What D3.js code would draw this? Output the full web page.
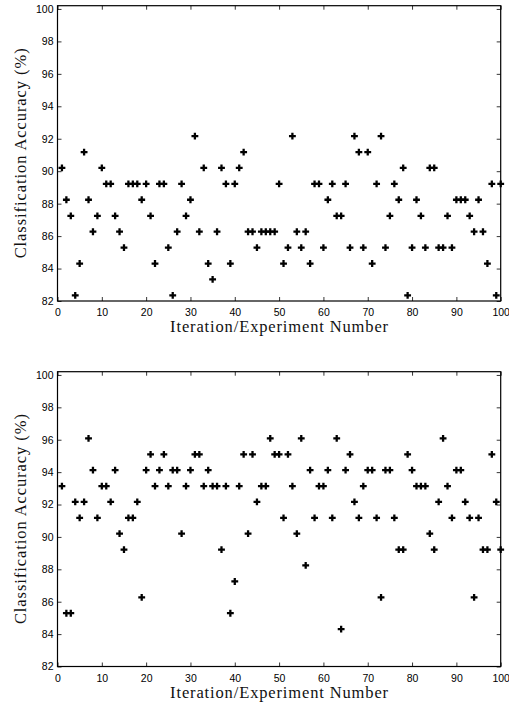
<!DOCTYPE html>
<html>
<head>
<meta charset="utf-8">
<script src="https://cdn.jsdelivr.net/npm/d3@7.9.0/dist/d3.min.js"></script>
<style>
  body { margin: 0; background: #fff; }
  svg { display: block; }
  .tick text { font-family: "Liberation Sans", Arial, sans-serif; font-size: 10.5px; fill: #000; }
  .axis-label { font-family: "Liberation Serif", "Times New Roman", serif; font-size: 16.5px; fill: #111; }
</style>
</head>
<body>
<svg id="chart" width="509" height="707"></svg>
<script>
// iteration / experiment numbers
const iterations = [
  1, 2, 3, 4, 5, 6, 7, 8, 9, 10, 11, 12, 13, 14, 15, 16, 17, 18, 19, 20,
  21, 22, 23, 24, 25, 26, 27, 28, 29, 30, 31, 32, 33, 34, 35, 36, 37, 38, 39, 40,
  41, 42, 43, 44, 45, 46, 47, 48, 49, 50, 51, 52, 53, 54, 55, 56, 57, 58, 59, 60,
  61, 62, 63, 64, 65, 66, 67, 68, 69, 70, 71, 72, 73, 74, 75, 76, 77, 78, 79, 80,
  81, 82, 83, 84, 85, 86, 87, 88, 89, 90, 91, 92, 93, 94, 95, 96, 97, 98, 99, 100
];

// accuracy (%) for the upper panel
const topAccuracy = [
  90.20, 88.24, 87.25, 82.35, 84.31, 91.18, 88.24, 86.27, 87.25, 90.20,
  89.22, 89.22, 87.25, 86.27, 85.29, 89.22, 89.22, 89.22, 88.24, 89.22,
  87.25, 84.31, 89.22, 89.22, 85.29, 82.35, 86.27, 89.22, 87.25, 88.24,
  92.16, 86.27, 90.20, 84.31, 83.33, 86.27, 90.20, 89.22, 84.31, 89.22,
  90.20, 91.18, 86.27, 86.27, 85.29, 86.27, 86.27, 86.27, 86.27, 89.22,
  84.31, 85.29, 92.16, 86.27, 85.29, 86.27, 84.31, 89.22, 89.22, 85.29,
  88.24, 89.22, 87.25, 87.25, 89.22, 85.29, 92.16, 91.18, 85.29, 91.18,
  84.31, 89.22, 92.16, 85.29, 87.25, 89.22, 88.24, 90.20, 82.35, 85.29,
  88.24, 87.25, 85.29, 90.20, 90.20, 85.29, 85.29, 87.25, 85.29, 88.24,
  88.24, 88.24, 87.25, 86.27, 88.24, 86.27, 84.31, 89.22, 82.35, 89.22
];

// accuracy (%) for the lower panel
const bottomAccuracy = [
  93.14, 85.29, 85.29, 92.16, 91.18, 92.16, 96.08, 94.12, 91.18, 93.14,
  93.14, 92.16, 94.12, 90.20, 89.22, 91.18, 91.18, 92.16, 86.27, 94.12,
  95.10, 93.14, 94.12, 95.10, 93.14, 94.12, 94.12, 90.20, 93.14, 94.12,
  95.10, 95.10, 93.14, 94.12, 93.14, 93.14, 89.22, 93.14, 85.29, 87.25,
  93.14, 95.10, 90.20, 95.10, 92.16, 93.14, 93.14, 96.08, 95.10, 95.10,
  91.18, 95.10, 93.14, 90.20, 96.08, 88.24, 94.12, 91.18, 93.14, 93.14,
  94.12, 91.18, 96.08, 84.31, 94.12, 95.10, 92.16, 91.18, 93.14, 94.12,
  94.12, 91.18, 86.27, 94.12, 94.12, 91.18, 89.22, 89.22, 95.10, 94.12,
  93.14, 93.14, 93.14, 90.20, 89.22, 92.16, 96.08, 93.14, 91.18, 94.12,
  94.12, 92.16, 91.18, 86.27, 91.18, 89.22, 89.22, 95.10, 92.16, 89.22
];

const xTickValues = [0, 10, 20, 30, 40, 50, 60, 70, 80, 90, 100];
const yTickValues = [82, 84, 86, 88, 90, 92, 94, 96, 98, 100];

const xLabel = 'Iteration/Experiment Number';
const yLabel = 'Classification Accuracy (%)';

const svg = d3.select('#chart');
const left = 57.5, right = 500.7;

const x = d3.scaleLinear().domain([0, 100]).range([left, right]);

// draw one panel: box, inward ticks on every side, + markers
function renderPanel(values, top, bottom) {
    const y = d3.scaleLinear().domain([82, 100.2]).range([bottom, top]);
    const g = svg.append('g');

    g.append('g')
        .attr('transform', `translate(0,${bottom})`)
        .call(d3.axisBottom(x).tickValues(xTickValues).tickSizeInner(-4).tickSizeOuter(0).tickPadding(8));
    g.append('g')
        .attr('transform', `translate(${left},0)`)
        .call(d3.axisLeft(y).tickValues(yTickValues).tickSizeInner(-4).tickSizeOuter(0).tickPadding(4));
    g.append('g')
        .attr('transform', `translate(0,${top})`)
        .call(d3.axisTop(x).tickValues(xTickValues).tickSizeInner(-4).tickSizeOuter(0).tickFormat(''));
    g.append('g')
        .attr('transform', `translate(${right},0)`)
        .call(d3.axisRight(y).tickValues(yTickValues).tickSizeInner(-4).tickSizeOuter(0).tickFormat(''));

    g.selectAll('.domain').remove();
    g.selectAll('.tick line').attr('stroke', '#000').attr('stroke-width', 0.8);

    g.append('rect')
        .attr('x', left)
        .attr('y', top)
        .attr('width', right - left)
        .attr('height', bottom - top)
        .attr('fill', 'none')
        .attr('stroke', '#000')
        .attr('stroke-width', 1.2);

    const plus = d3.symbol().type(d3.symbolCross).size(26);
    g.selectAll('.pt')
        .data(values)
        .join('path')
        .attr('class', 'pt')
        .attr('d', plus)
        .attr('transform', (d, i) => `translate(${x(iterations[i])},${y(d)})`)
        .attr('fill', '#000');

    g.append('text')
        .attr('class', 'axis-label')
        .attr('x', (left + right) / 2)
        .attr('y', bottom + 31.3)
        .attr('text-anchor', 'middle')
        .attr('textLength', 218)
        .attr('lengthAdjust', 'spacing')
        .text(xLabel);

    g.append('text')
        .attr('class', 'axis-label')
        .attr('transform', `translate(26,${(top + bottom) / 2}) rotate(-90)`)
        .attr('text-anchor', 'middle')
        .attr('textLength', 210)
        .attr('lengthAdjust', 'spacing')
        .text(yLabel);
}

renderPanel(topAccuracy, 5.7, 301);
renderPanel(bottomAccuracy, 371.7, 666.5);
</script>
</body>
</html>
